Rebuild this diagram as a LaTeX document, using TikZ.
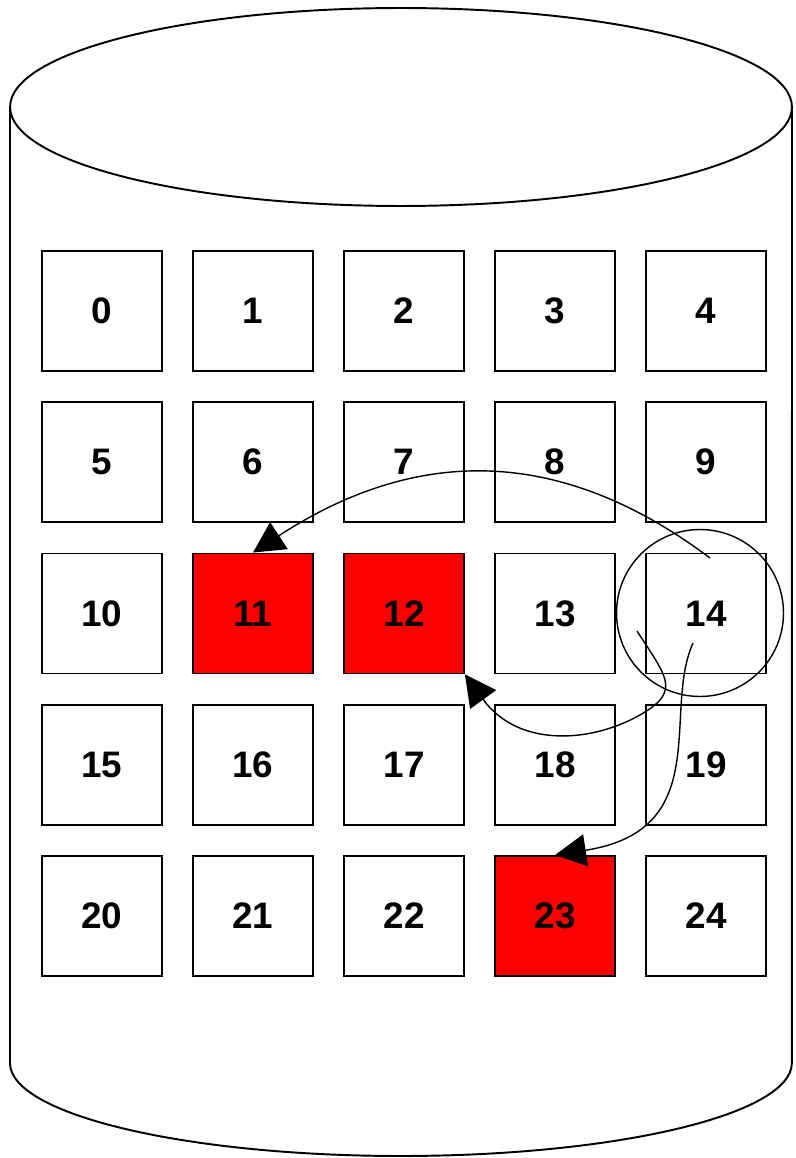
\documentclass[tikz,border=0pt]{standalone}
\usepackage{fontspec}
\setsansfont{Liberation Sans}
\usetikzlibrary{arrows.meta}

\begin{document}
\begin{tikzpicture}[
    x=0.02cm, y=-0.02cm,
    block/.style={rectangle, draw=black, fill=white, line width=1.1pt, minimum size=2.4cm, inner sep=0pt,
        font=\sffamily\bfseries\fontsize{21}{24}\selectfont},
    hit/.style={fill=red},
    cell 11/.style={hit}, cell 12/.style={hit}, cell 23/.style={hit},
    ring/.style={circle, draw=black, line width=0.8pt, minimum size=3.34cm, inner sep=0pt},
    rim/.style={draw=black, line width=1.1pt},
    link/.style={-{Triangle[length=0.62cm, width=0.64cm]}, line width=0.8pt}
]
    \useasboundingbox (0,0) rectangle (795,1158);

    % Cylinder
    \draw[rim] (401,107) ellipse [x radius=7.82cm, y radius=1.98cm];
    \draw[rim] (10,107) -- (10,1063)
        arc [start angle=180, end angle=360, x radius=7.82cm, y radius=1.86cm] -- (792,107);

    % Blocks 0..24
    \foreach \k in {0,...,24} {
        \pgfmathtruncatemacro{\col}{mod(\k,5)}
        \pgfmathtruncatemacro{\row}{div(\k,5)}
        \node[block, cell \k/.try] (b\k) at (102+151*\col, 311+151.25*\row) {\k};
    }

    % Circle round block 14
    \node[ring] (c14) at (700,613) {};

    % Start points inside the circle
    \coordinate (s1) at (710,558);
    \coordinate (s2) at (637,631);
    \coordinate (s3) at (693,643);

    % Moves out of 14
    \draw[link] (s1) .. controls (550,438) and (406,453) .. (b11.north);
    \draw[link] (s2) .. controls (666,676) and (680,690) .. (645,712)
        .. controls (595,743) and (519,749) .. (b12.south east);
    \draw[link] (s3) .. controls (662,712) and (715,830) .. (b23.north);

\end{tikzpicture}
\end{document}
